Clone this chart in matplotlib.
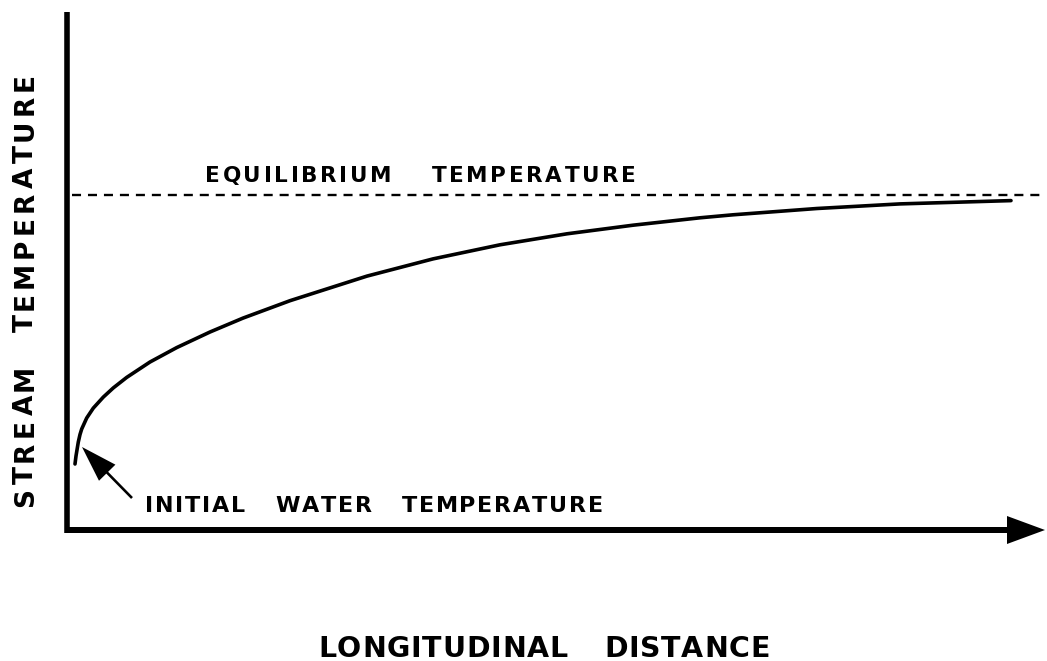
import matplotlib
matplotlib.use("Agg")
import matplotlib.pyplot as plt
from matplotlib.transforms import IdentityTransform
from matplotlib.patches import FancyArrow

# ---- data (arbitrary units: distance along stream, stream temperature) ----
distance = [8, 9, 11.3, 13, 14.7, 19.7, 26.3, 36.3, 46.3, 59.7, 83, 109.7, 143,
            176, 223, 300, 366, 433, 500, 566, 633, 666, 750, 833, 944]
temperature = [66, 74, 88, 95.5, 101, 112, 121.9, 132.9, 142.1, 152.6, 168,
               182.4, 198, 211.9, 229.3, 253.9, 271.1, 285.2, 296.2, 304.8,
               312.2, 315.2, 321.5, 326.1, 329.4]
equilibrium_temp = 335
initial_temp = 66

x_label = "LONGITUDINAL  DISTANCE"
y_label = "STREAM  TEMPERATURE"
eq_label = "EQUILIBRIUM  TEMPERATURE"
init_label = "INITIAL  WATER  TEMPERATURE"

# ---- figure ----
W, H = 1047, 661
plt.rcParams["lines.scale_dashes"] = False
fig = plt.figure(figsize=(W / 100, H / 100), dpi=100)
ox, oy = 67, 530
ax = fig.add_axes([ox / W, (H - oy) / H, (1045 - ox) / W, (oy - 12) / H])
ax.set_xlim(0, 978)
ax.set_ylim(0, 518)
ax.axis("off")

# axes lines
ax.plot([0, 0], [-3, 518], color="k", lw=4.0, solid_capstyle="butt", clip_on=False)
ax.add_patch(FancyArrow(0, 0, 978, 0, width=6, head_width=28, head_length=38,
                        length_includes_head=True, color="k", lw=0, clip_on=False))

# equilibrium dashed line
ax.plot([5, 978], [equilibrium_temp, equilibrium_temp], color="k", lw=1.7,
        dashes=(6.5, 5), clip_on=False)

# curve
ax.plot(distance, temperature, color="k", lw=2.6, solid_capstyle="round",
        solid_joinstyle="round")

# annotation arrow to initial temperature
tip_x, tip_y = distance[0] + 7, initial_temp + 17
ax.add_patch(FancyArrow(65, 32, tip_x - 65, tip_y - 32, width=2.6, head_width=23,
                        head_length=36, length_includes_head=True, color="k",
                        lw=0, clip_on=False))

# ---- letter-spaced text helper (image pixel coords) ----
renderer = fig.canvas.get_renderer()
FONT = ["DejaVu Sans"]


def spaced(s, start, end, base, size, word_gap, vertical=False):
    words = [w for w in s.split(" ") if w]
    widths = []
    for w in words:
        ws = []
        for ch in w:
            t = fig.text(0, 0, ch, fontsize=size, fontweight="bold", family=FONT)
            ws.append(t.get_window_extent(renderer).width)
            t.remove()
        widths.append(ws)
    total_letters = sum(sum(ws) for ws in widths)
    n_letter_gaps = sum(len(w) - 1 for w in words)
    length = abs(end - start)
    g = (length - total_letters - word_gap * (len(words) - 1)) / n_letter_gaps
    pos = 0.0
    for wi, w in enumerate(words):
        for ci, ch in enumerate(w):
            if not vertical:
                fig.text(start + pos, H - base, ch, fontsize=size, fontweight="bold",
                         family=FONT, ha="left", va="baseline",
                         transform=IdentityTransform())
            else:
                fig.text(base, H - (start - pos), ch, fontsize=size, fontweight="bold",
                         family=FONT, ha="left", va="baseline", rotation=90,
                         rotation_mode="anchor", transform=IdentityTransform())
            pos += widths[wi][ci]
            if ci < len(w) - 1:
                pos += g
        pos += word_gap


spaced(eq_label, 205, 636, 182, 15.5, 40)
spaced(init_label, 145, 603, 512, 16, 30)
spaced(x_label, 318, 770, 657, 20.5, 36)
spaced(y_label, 507, 73, 33, 19, 32, vertical=True)

fig.savefig("out.png", dpi=100)
